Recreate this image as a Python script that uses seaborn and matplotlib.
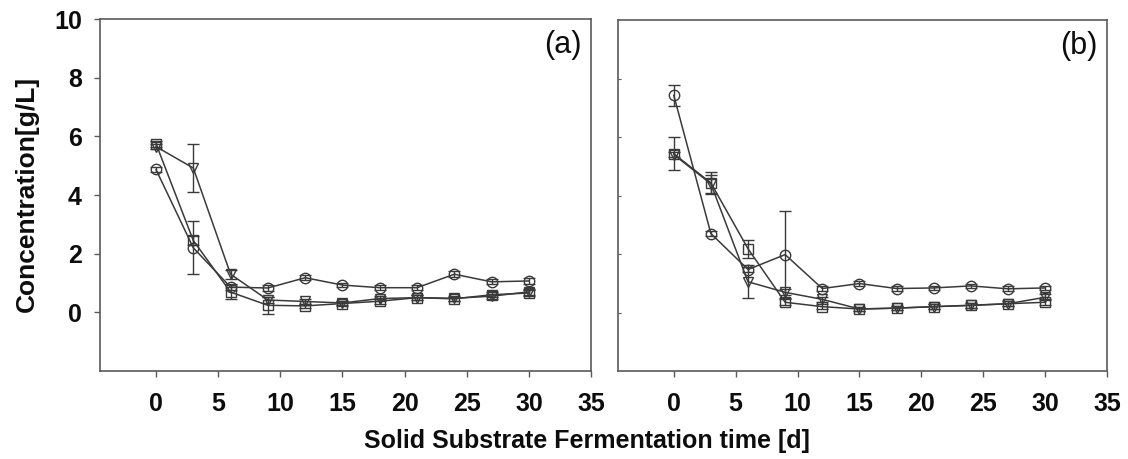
import numpy as np
import pandas as pd
import matplotlib
matplotlib.use("Agg")
import matplotlib.pyplot as plt
import seaborn as sns

# sampling days
days = [0, 3, 6, 9, 12, 15, 18, 21, 24, 27, 30]

# panel (a)
a_circle = [4.87, 2.20, 0.86, 0.83, 1.18, 0.93, 0.84, 0.84, 1.30, 1.04, 1.07]
a_circle_err = [0.08, 0.90, 0.10, 0.10, 0.08, 0.08, 0.08, 0.08, 0.10, 0.08, 0.10]
a_square = [5.75, 2.45, 0.69, 0.24, 0.22, 0.30, 0.38, 0.50, 0.46, 0.60, 0.66]
a_square_err = [0.10, 0.15, 0.25, 0.30, 0.08, 0.08, 0.08, 0.08, 0.08, 0.08, 0.10]
a_tri = [5.65, 4.92, 1.30, 0.42, 0.37, 0.32, 0.47, 0.50, 0.48, 0.55, 0.70]
a_tri_err = [0.08, 0.83, 0.15, 0.10, 0.08, 0.08, 0.08, 0.08, 0.08, 0.08, 0.10]

# panel (b)
b_circle = [7.43, 2.70, 1.47, 1.98, 0.82, 0.99, 0.82, 0.84, 0.91, 0.81, 0.84]
b_circle_err = [0.36, 0.08, 0.10, 1.50, 0.08, 0.08, 0.08, 0.08, 0.08, 0.08, 0.08]
b_square = [5.43, 4.43, 2.18, 0.35, 0.20, 0.12, 0.15, 0.20, 0.24, 0.30, 0.35]
b_square_err = [0.57, 0.37, 0.30, 0.10, 0.08, 0.08, 0.08, 0.08, 0.08, 0.08, 0.10]
b_tri = [5.40, 4.40, 1.05, 0.69, 0.45, 0.12, 0.15, 0.20, 0.25, 0.30, 0.52]
b_tri_err = [0.10, 0.30, 0.57, 0.10, 0.08, 0.08, 0.08, 0.08, 0.08, 0.08, 0.10]

x_ticks = [0, 5, 10, 15, 20, 25, 30, 35]
y_ticks = [0, 2, 4, 6, 8, 10]

panels = {
    "(a)": {"circle": (a_circle, a_circle_err),
            "square": (a_square, a_square_err),
            "triangle": (a_tri, a_tri_err)},
    "(b)": {"circle": (b_circle, b_circle_err),
            "square": (b_square, b_square_err),
            "triangle": (b_tri, b_tri_err)},
}

sns.set_theme(style="ticks")
plt.rcParams["font.family"] = ["Liberation Sans", "DejaVu Sans"]

LINE = "#3a3a3a"
SPINE = "#5a5a5a"
TXT = "#0d0d0d"
marker_map = {"circle": "o", "square": "s", "triangle": "v"}

fig = plt.figure(figsize=(11.28, 4.59), dpi=100)
ax_a = fig.add_axes([0.0887, 0.1917, 0.4353, 0.7669])
ax_b = fig.add_axes([0.5479, 0.1917, 0.4335, 0.7647])

for ax, (tag, series) in zip([ax_a, ax_b], panels.items()):
    rows = []
    for name, (vals, errs) in series.items():
        for d, v in zip(days, vals):
            rows.append({"day": d, "conc": v, "series": name})
        ax.errorbar(days, vals, yerr=errs, fmt="none", ecolor=LINE,
                    elinewidth=1.0, capsize=4, capthick=1.0, zorder=2)
    df = pd.DataFrame(rows)
    sns.lineplot(data=df, x="day", y="conc", style="series",
                 markers=marker_map, dashes=False, color=LINE,
                 markerfacecolor="none", markeredgecolor=LINE,
                 markeredgewidth=1.0, markersize=7.5, linewidth=1.1,
                 legend=False, ax=ax, zorder=3)

    ax.set_xlim(-4.5, 35)
    ax.set_ylim(-2, 10)
    ax.set_xticks(x_ticks)
    ax.set_xlabel("")
    ax.set_ylabel("")
    for sp in ax.spines.values():
        sp.set_visible(True)
        sp.set_color(SPINE)
        sp.set_linewidth(1.2)
    ax.tick_params(axis="x", direction="out", length=4, width=1.0,
                   color=SPINE, labelsize=18, pad=11)
    ax.text(0.98, 0.925, tag, transform=ax.transAxes, ha="right",
            va="center", fontsize=22, color=TXT)
    for lab in ax.get_xticklabels():
        lab.set_fontweight("bold")
        lab.set_color(TXT)

ax_a.set_yticks(y_ticks)
ax_a.tick_params(axis="y", direction="out", length=4, width=1.0,
                 color=SPINE, labelsize=18, pad=9)
for lab in ax_a.get_yticklabels():
    lab.set_fontweight("bold")
    lab.set_color(TXT)

ax_b.set_yticks([0, 2, 4, 6, 8])
ax_b.tick_params(axis="y", direction="in", length=2, width=0.8,
                 color=SPINE, labelleft=False)

fig.text(0.024, 0.577, "Concentration[g/L]", rotation=90, ha="center",
         va="center", fontsize=19, fontweight="bold", color=TXT)
fig.text(0.52, 0.039, "Solid Substrate Fermentation time [d]", ha="center",
         va="center", fontsize=18, fontweight="bold", color=TXT)

fig.savefig("out.png", dpi=100)
